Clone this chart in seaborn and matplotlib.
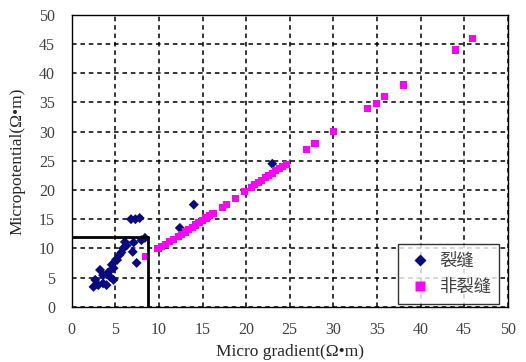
import numpy as np
import pandas as pd
import matplotlib
matplotlib.use("Agg")
import matplotlib.pyplot as plt
import seaborn as sns

# crack points (裂缝)
crack_x = [23.0, 14.0, 6.8, 7.3, 7.8, 12.4, 8.0, 8.4, 7.1, 6.1, 5.9, 7.0, 5.5, 5.2,
           7.45, 4.6, 4.8, 3.25, 3.6, 2.7, 4.4, 4.8, 3.05, 4.0, 2.5, 3.6, 5.1, 6.3, 5.7, 4.2]
crack_y = [24.5, 17.5, 15.0, 15.0, 15.2, 13.5, 11.4, 11.8, 11.0, 11.1, 10.0, 9.4, 8.9, 8.0,
           7.5, 7.2, 6.6, 6.3, 5.4, 4.6, 5.1, 4.6, 3.7, 3.7, 3.4, 4.0, 8.1, 10.5, 9.3, 5.9]

# non-crack points (非裂缝)
non_x = [8.5, 9.9, 10.3, 10.8, 11.2, 11.7, 12.2, 12.6, 13.0, 13.4, 13.8, 14.2, 14.6,
         15.0, 15.4, 15.8, 16.2, 17.3, 17.8, 18.8, 19.8, 20.6, 21.0, 21.4, 21.8, 22.2,
         22.6, 23.0, 23.4, 23.8, 24.2, 24.6, 26.9, 27.9, 30.0, 33.9, 34.9, 35.9, 38.0,
         44.0, 46.0]
non_y = [8.6, 10.0, 10.3, 10.7, 11.1, 11.5, 12.0, 12.4, 12.8, 13.2, 13.6, 14.0, 14.4,
         14.8, 15.2, 15.6, 16.0, 17.0, 17.5, 18.6, 19.8, 20.4, 20.9, 21.3, 21.7, 22.1,
         22.5, 22.9, 23.3, 23.7, 24.1, 24.4, 26.9, 27.9, 30.0, 33.9, 34.9, 36.0, 38.0,
         44.0, 46.0]

# threshold box
box_x = 8.7
box_y = 12

df = pd.DataFrame({
    "x": crack_x + non_x,
    "y": crack_y + non_y,
    "type": ["裂缝"] * len(crack_x) + ["非裂缝"] * len(non_x),
})

sns.set_style("white")
plt.rcParams['font.family'] = ['Noto Sans CJK SC', 'DejaVu Sans']

fig = plt.figure(figsize=(5.26, 3.62), dpi=100)
ax = fig.add_axes([0.1363, 0.1528, 0.829, 0.8058])

sns.scatterplot(data=df, x="x", y="y", hue="type", style="type",
                palette={"裂缝": "#0a0a80", "非裂缝": "#ff00ff"},
                markers={"裂缝": "D", "非裂缝": "s"},
                s=48, edgecolor="none", ax=ax, zorder=3)
# diamonds a bit smaller than the squares
ax.collections[0].set_sizes([26])

# black threshold lines
ax.plot([0, box_x], [box_y, box_y], color="black", lw=2, zorder=4)
ax.plot([box_x, box_x], [0, box_y], color="black", lw=2, zorder=4)

ax.set_xlim(0, 50)
ax.set_ylim(0, 50)
ax.set_xticks(range(0, 51, 5))
ax.set_yticks(range(0, 51, 5))
ax.grid(True, color="black", linestyle=(0, (3, 2.5)), linewidth=1.1)
for s in ax.spines.values():
    s.set_color("black")
    s.set_linewidth(1)
ax.tick_params(direction="in", length=4, color="black", labelsize=11.5, labelcolor="#404040")
ax.tick_params(axis="x", pad=11)
ax.tick_params(axis="y", pad=12)
for lab in ax.get_xticklabels() + ax.get_yticklabels():
    lab.set_family("Liberation Serif")

ax.set_xlabel("Micro gradient(Ω•m)", family="Liberation Serif", fontsize=12.5, labelpad=4)
ax.set_ylabel("Micropotential(Ω•m)", family="Liberation Serif", fontsize=12.5, labelpad=10)

handles, labels = ax.get_legend_handles_labels()
for h in handles:
    h.set_markersize(6.5)
leg = ax.legend(handles, labels, loc="lower right", bbox_to_anchor=(1.0, -0.02),
                frameon=True, fancybox=False, edgecolor="black",
                handletextpad=0.3, borderpad=0.45, labelspacing=0.45, handlelength=1.6,
                prop={"family": ["Noto Sans CJK SC"], "size": 12.5})
leg.get_frame().set_linewidth(1)
for t in leg.get_texts():
    t.set_color("#404040")
leg.set_zorder(5)

fig.savefig("out.png", dpi=100)
